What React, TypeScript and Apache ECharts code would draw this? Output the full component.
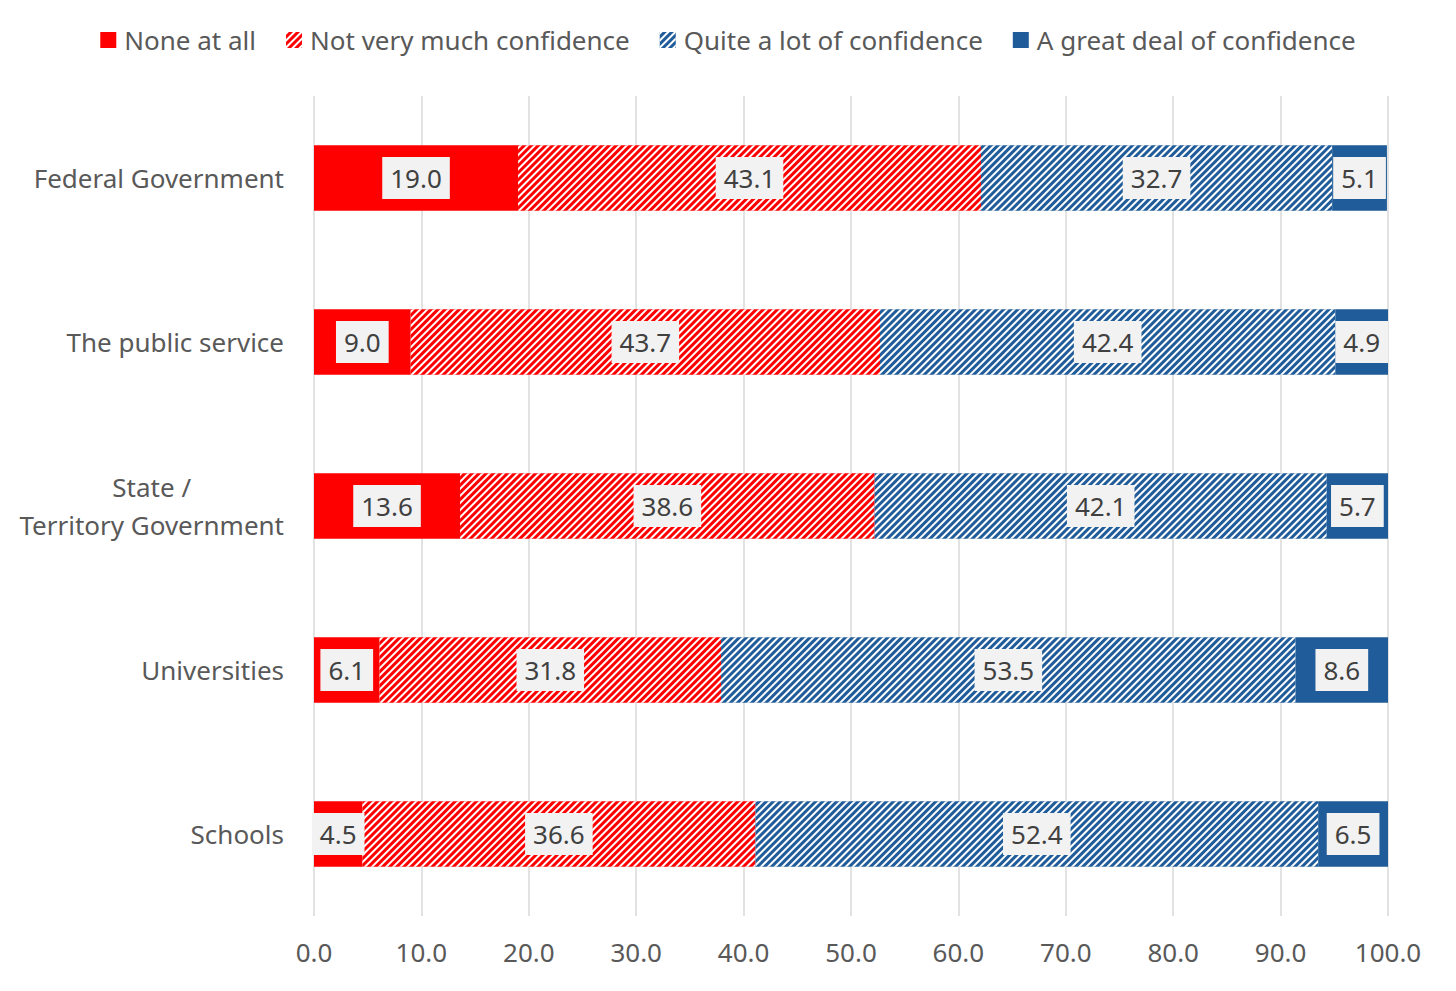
import React, { useEffect, useRef } from "react";
import * as echarts from "echarts";

const categories = [
  "Federal Government",
  "The public service",
  "State /\nTerritory Government",
  "Universities",
  "Schools",
];
const seriesNames = [
  "None at all",
  "Not very much confidence",
  "Quite a lot of confidence",
  "A great deal of confidence",
];
const noneAtAll = [19.0, 9.0, 13.6, 6.1, 4.5];
const notVeryMuch = [43.1, 43.7, 38.6, 31.8, 36.6];
const quiteALot = [32.7, 42.4, 42.1, 53.5, 52.4];
const greatDeal = [5.1, 4.9, 5.7, 8.6, 6.5];
const xTicks = [0, 10, 20, 30, 40, 50, 60, 70, 80, 90, 100];

const RED = "#ff0000";
const BLUE = "#1f5c99";
const FONT = "Noto Sans";

export default function App() {
  const ref = useRef<HTMLDivElement>(null);
  useEffect(() => {
    document.body.style.margin = "0";
    const chart = echarts.init(ref.current!, null, { renderer: "svg" });
    // decal colour is white, so the first dash is the white stripe
    const stripe = {
      symbol: "rect",
      color: "#ffffff",
      dashArrayX: [1, 0],
      dashArrayY: [1.8, 2.6],
      rotation: -Math.PI / 4,
      symbolSize: 1,
    };
    const label = {
      show: true,
      position: "inside",
      formatter: (p: any) => Number(p.value).toFixed(1),
      color: "#404040",
      fontFamily: FONT,
      fontSize: 26,
      backgroundColor: "#f2f2f2",
      padding: [9, 8, 7, 8],
    };
    const data = [noneAtAll, notVeryMuch, quiteALot, greatDeal];
    const colors = [RED, RED, BLUE, BLUE];
    const series = data.map((d, i) => ({
      name: seriesNames[i],
      type: "bar",
      stack: "total",
      barWidth: "40%",
      data: d,
      label,
      itemStyle: {
        color: colors[i],
        decal: i === 1 || i === 2 ? stripe : { symbol: "none" },
      },
      emphasis: { disabled: true },
    }));
    chart.setOption({
      animation: false,
      aria: { enabled: false, decal: { show: true } },
      legend: {
        top: 22,
        left: "center",
        itemWidth: 16,
        itemHeight: 16,
        itemGap: 30,
        icon: "rect",
        textStyle: {
          color: "#595959",
          fontSize: 26,
          fontFamily: FONT,
          padding: [0, 0, 0, 3],
        },
        data: seriesNames,
      },
      grid: { left: 314, right: 68, top: 96, bottom: 75, containLabel: false },
      xAxis: {
        type: "value",
        min: 0,
        max: 100,
        interval: 10,
        axisLine: { show: false },
        axisTick: { show: false },
        splitLine: { lineStyle: { color: "#d9d9d9", width: 1.5 } },
        axisLabel: {
          color: "#595959",
          fontSize: 26,
          fontFamily: FONT,
          margin: 23,
          formatter: (v: number) => (xTicks.includes(v) ? v.toFixed(1) : ""),
        },
      },
      yAxis: {
        type: "category",
        inverse: true,
        data: categories,
        axisLine: { show: false },
        axisTick: { show: false },
        axisLabel: {
          margin: 30,
          formatter: (v: string) =>
            v
              .split("\n")
              .map((s) => `{c|${s}}`)
              .join("\n"),
          rich: {
            c: {
              color: "#595959",
              fontSize: 26,
              fontFamily: FONT,
              align: "center",
              lineHeight: 38,
            },
          },
        },
      },
      series,
    });
    return () => chart.dispose();
  }, []);
  return <div ref={ref} style={{ width: 1456, height: 991 }} />;
}
